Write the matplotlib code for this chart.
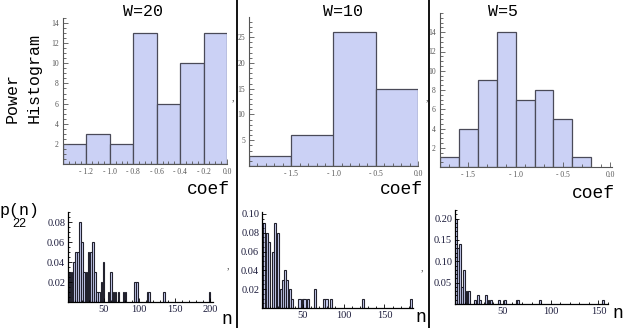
import numpy as np
import matplotlib
matplotlib.use("Agg")
import matplotlib.pyplot as plt
from matplotlib.ticker import MultipleLocator, FixedLocator, FuncFormatter
from matplotlib.lines import Line2D

# top row: power histograms of coef
edges20 = [-1.4, -1.2, -1.0, -0.8, -0.6, -0.4, -0.2, 0.0]
counts20 = [2, 3, 2, 13, 6, 10, 13]
edges10 = [-2.0, -1.5, -1.0, -0.5, 0.0]
counts10 = [2, 6, 26, 15]
edges5 = [-1.8, -1.6, -1.4, -1.2, -1.0, -0.8, -0.6, -0.4, -0.2]
counts5 = [1, 4, 9, 14, 7, 8, 5, 1]

# bottom row: p(n)
n20 = [2, 5, 8, 11, 14, 17, 20, 23, 26, 29, 32, 35, 38, 41, 44, 47, 50,
       57, 60, 64, 67, 71, 78, 81, 94, 97, 112, 114, 135, 199]
p20 = [0.03, 0.03, 0.04, 0.05, 0.05, 0.08, 0.06, 0.03, 0.03, 0.05, 0.05, 0.06,
       0.03, 0.01, 0.01, 0.02, 0.04, 0.01, 0.03, 0.01, 0.01, 0.01, 0.01, 0.01,
       0.02, 0.02, 0.01, 0.01, 0.01, 0.01]
n10 = [2, 6, 9, 13, 16, 20, 23, 26, 28, 31, 34, 37, 46, 50, 52, 56, 65, 76,
       79, 85, 124, 183]
p10 = [0.09, 0.08, 0.07, 0.06, 0.09, 0.08, 0.02, 0.03, 0.04, 0.03, 0.02, 0.01,
       0.01, 0.01, 0.01, 0.01, 0.02, 0.01, 0.01, 0.01, 0.01, 0.01]
n5 = [1, 3, 5, 7, 9, 11, 13, 15, 21, 24, 26, 32, 35, 38, 46, 52, 65, 66, 89, 155]
p5 = [0.20, 0.13, 0.14, 0.04, 0.08, 0.03, 0.03, 0.03, 0.01, 0.02, 0.01, 0.02,
      0.01, 0.01, 0.01, 0.01, 0.01, 0.01, 0.01, 0.01]

W, H = 625, 328
MONO = "Liberation Mono"
SERIF = "Liberation Serif"
FILL = "#cbd1f5"
EDGE = "#4a4a58"

fig = plt.figure(figsize=(W / 100, H / 100), dpi=100)


def px_axes(x0, y0, x1, y1):
    # pixel box (top-left origin) -> axes
    return fig.add_axes([x0 / W, 1 - y1 / H, (x1 - x0) / W, (y1 - y0) / H])


def neg_fmt(v, pos):
    if abs(v) < 1e-9:
        return "0.0"
    return "- %.1f" % abs(v) if v < 0 else "%.1f" % v


def style_top(ax, xlim, ylim, xmaj, xmin, ymaj, ymin):
    ax.set_xlim(*xlim)
    ax.set_ylim(*ylim)
    for s in ["top", "right"]:
        ax.spines[s].set_visible(False)
    for s in ["left", "bottom"]:
        ax.spines[s].set_color("#555555")
        ax.spines[s].set_linewidth(0.8)
    ax.xaxis.set_major_locator(FixedLocator(xmaj))
    ax.xaxis.set_minor_locator(MultipleLocator(xmin))
    ax.yaxis.set_major_locator(FixedLocator(ymaj))
    ax.yaxis.set_minor_locator(MultipleLocator(ymin))
    ax.xaxis.set_major_formatter(FuncFormatter(neg_fmt))
    ax.tick_params(which="both", direction="in", colors="#555555",
                   labelsize=5.5, width=0.6, pad=3)
    ax.tick_params(which="major", length=3.5)
    ax.tick_params(which="minor", length=2)
    for lab in ax.get_xticklabels() + ax.get_yticklabels():
        lab.set_family(SERIF)
    ax.patch.set_alpha(0)


def top_hist(ax, edges, counts):
    e = np.array(edges)
    ax.bar(e[:-1], counts, width=np.diff(e), align="edge",
           color=FILL, edgecolor=EDGE, linewidth=0.9)


def style_bot(ax, xlim, ylim, xmaj, ymaj, ymin):
    ax.set_xlim(*xlim)
    ax.set_ylim(*ylim)
    for s in ["top", "right"]:
        ax.spines[s].set_visible(False)
    for s in ["left", "bottom"]:
        ax.spines[s].set_color("black")
        ax.spines[s].set_linewidth(0.9)
    ax.xaxis.set_major_locator(FixedLocator(xmaj))
    ax.xaxis.set_minor_locator(MultipleLocator(10))
    ax.yaxis.set_major_locator(FixedLocator(ymaj))
    ax.yaxis.set_minor_locator(MultipleLocator(ymin))
    ax.tick_params(which="both", direction="in", colors="black",
                   labelcolor="#1c1c3c", labelsize=7.5, width=0.6, pad=2)
    ax.tick_params(which="major", length=3)
    ax.tick_params(which="minor", length=1.5)
    for lab in ax.get_xticklabels() + ax.get_yticklabels():
        lab.set_family(SERIF)
    ax.patch.set_alpha(0)


def bot_bars(ax, n, p, w):
    ax.bar(n, p, width=w, color=FILL, edgecolor="#22222e", linewidth=0.8)


# top row
ax1 = px_axes(63, 18, 227, 164)
top_hist(ax1, edges20, counts20)
style_top(ax1, (-1.4, 0.0), (0, 14.5),
          [-1.2, -1.0, -0.8, -0.6, -0.4, -0.2, 0.0], 0.05, [2, 4, 6, 8, 10, 12, 14], 0.5)

ax2 = px_axes(249, 17, 418, 166)
top_hist(ax2, edges10, counts10)
style_top(ax2, (-2.0, 0.0), (0, 28.9),
          [-1.5, -1.0, -0.5, 0.0], 0.1, [5, 10, 15, 20, 25], 1)

ax3 = px_axes(440, 13, 612, 167)
top_hist(ax3, edges5, counts5)
style_top(ax3, (-1.8, 0.02), (0, 16.0),
          [-1.5, -1.0, -0.5, 0.0], 0.1, [2, 4, 6, 8, 10, 12, 14], 0.5)

# bottom row
bx1 = px_axes(68, 212, 213, 302)
bot_bars(bx1, n20, p20, 2.4)
style_bot(bx1, (0, 204), (0, 0.09), [50, 100, 150, 200],
          [0.02, 0.04, 0.06, 0.08], 0.005)

bx2 = px_axes(262, 212, 413, 308)
bot_bars(bx2, n10, p10, 2.6)
style_bot(bx2, (0, 185), (0, 0.102), [50, 100, 150],
          [0.02, 0.04, 0.06, 0.08, 0.10], 0.005)

bx3 = px_axes(455, 210, 608, 304)
bot_bars(bx3, n5, p5, 1.9)
style_bot(bx3, (0, 160), (0, 0.22), [50, 100, 150],
          [0.05, 0.10, 0.15, 0.20], 0.01)


def ftext(x, y, s, **kw):
    fig.text(x / W, 1 - y / H, s, **kw)


# titles and axis labels
for x, s in [(143, "W=20"), (343, "W=10"), (503, "W=5")]:
    ftext(x, 12, s, family=MONO, fontsize=12, ha="center", va="center")
for x, y in [(208, 190), (401, 190), (593, 193)]:
    ftext(x, y, "coef", family=MONO, fontsize=13, ha="center", va="center")
ftext(12, 123, "Power", family=MONO, fontsize=12, rotation=90,
      ha="center", va="bottom")
ftext(34, 123, "Histogram", family=MONO, fontsize=12, rotation=90,
      ha="center", va="bottom")
ftext(0, 210, "p(n)", family=MONO, fontsize=12, ha="left", va="center")
ftext(19, 224, "22", family="Liberation Sans", fontsize=9, ha="center", va="center")
for x, y in [(227, 319), (421, 318), (618, 314)]:
    ftext(x, y, "n", family=MONO, fontsize=13, ha="center", va="center")
# stray marks between panels
for x, y in [(233, 98), (427, 98), (228, 266), (422, 268)]:
    ftext(x, y, ",", family=SERIF, fontsize=7, color="#444444",
          ha="center", va="center")

# column separators
for x in [236.5, 428.5]:
    fig.add_artist(Line2D([x / W, x / W], [0, 1], color="black", linewidth=1.3,
                          transform=fig.transFigure))

fig.savefig("out.png", dpi=100)
